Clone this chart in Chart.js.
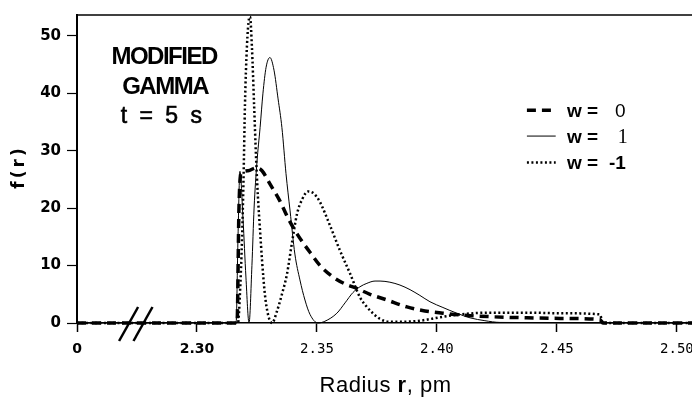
<!DOCTYPE html>
<html>
<head>
<meta charset="utf-8">
<script src="https://cdn.jsdelivr.net/npm/chart.js@4.4.1/dist/chart.umd.min.js"></script>
<style>
  html, body { margin: 0; padding: 0; background: #fff; }
  #wrap { width: 692px; height: 397px; position: relative; }
</style>
</head>
<body>
<div id="wrap"><canvas id="gammaChart"></canvas></div>
<script>
// Modified gamma distribution f(r) at t = 5 s, three values of w

// axis ticks (2.25 is shown as "0" because of the axis break)
const xTicks = [2.25, 2.30, 2.35, 2.40, 2.45, 2.50];
const xTickLabels = ['0', '2.30', '2.35', '2.40', '2.45', '2.50'];
const yTicks = [0, 10, 20, 30, 40, 50];

// w = 0 (thick dashed)
const w0Radius = [2.25, 2.3167, 2.3175, 2.3183, 2.3213, 2.3246, 2.3271, 2.3304, 2.3346, 2.3379,
                  2.3417, 2.3471, 2.3513, 2.3567, 2.3617, 2.3667, 2.3721, 2.3792, 2.3875, 2.395,
                  2.4025, 2.4096, 2.4221, 2.4375, 2.4513, 2.4679, 2.4692, 2.5063];
const w0Values = [0, 0, 20, 26, 26.5, 27, 26.5, 24.2, 21.2, 18.3,
                  15.5, 12.3, 10.0, 8.0, 6.8, 6.0, 5.0, 4.0, 2.8, 2.1,
                  1.7, 1.4, 1.1, 0.9, 0.8, 0.6, 0, 0];

// w = 1 (thin solid)
const w1Radius = [2.25, 2.3163, 2.3171, 2.3179, 2.3192, 2.3204, 2.3217, 2.3229, 2.3238, 2.325,
                  2.3263, 2.3275, 2.3288, 2.3304, 2.3321, 2.3338, 2.3354, 2.3371, 2.3388, 2.3408,
                  2.3429, 2.345, 2.3471, 2.3504, 2.3533, 2.3583, 2.3617, 2.365, 2.3679, 2.3708,
                  2.3742, 2.3763, 2.3804, 2.3846, 2.3888, 2.3929, 2.3971, 2.4025, 2.4083, 2.4138,
                  2.42, 2.4263, 2.5063];
const w1Values = [0, 0, 15, 26.4, 18, 8, 0, 10, 20, 28,
                  34, 40, 44.5, 46.2, 44, 39, 34, 26, 19.5, 12,
                  7.5, 4, 1.5, 0, 0.3, 1.7, 3.5, 5.3, 6.3, 6.9,
                  7.3, 7.3, 7.1, 6.6, 5.8, 4.8, 3.7, 2.7, 1.7, 0.9,
                  0.4, 0.1, 0];

// w = -1 (dotted)
const wm1Radius = [2.25, 2.3171, 2.3179, 2.3188, 2.3194, 2.32, 2.3208, 2.3217, 2.3221, 2.3229,
                   2.3238, 2.3246, 2.3254, 2.3263, 2.3271, 2.3283, 2.3296, 2.3313, 2.3333, 2.3354,
                   2.3375, 2.3396, 2.3417, 2.3438, 2.3463, 2.3488, 2.3513, 2.3554, 2.3596, 2.3638,
                   2.3679, 2.3708, 2.3733, 2.3763, 2.3804, 2.3846, 2.3929, 2.4013, 2.4096, 2.4221,
                   2.4375, 2.4513, 2.4679, 2.4692, 2.5063];
const wm1Values = [0, 0, 5, 15, 25, 38, 48, 53, 53.3, 48,
                   38, 29, 22, 16, 11, 5, 1.5, 0, 2, 5,
                   8.5, 14, 19, 21.5, 22.9, 22.5, 21, 17, 12.6, 8.6,
                   4.5, 2.8, 1.7, 0.7, 0.2, 0.2, 0.4, 1.0, 1.5, 1.8,
                   1.8, 1.7, 1.5, 0, 0];

const SANS = "'Liberation Sans', Arial, sans-serif";

function toPoints(xs, ys) {
    return xs.map((r, i) => ({ x: r, y: ys[i] }));
}

function lineSet(label, xs, ys, width, dash, valueStyle) {
    return {
        label: label,
        data: toPoints(xs, ys),
        borderColor: '#000',
        borderWidth: width,
        borderDash: dash,
        pointRadius: 0,
        cubicInterpolationMode: 'monotone',
        fill: false,
        clip: 6,
        valueStyle: valueStyle
    };
}

// frame top, axis break, text labels and the legend
const decorations = {
    id: 'decorations',
    afterDraw(chart) {
        const { ctx, chartArea: a, scales: { x, y } } = chart;
        ctx.save();
        ctx.strokeStyle = '#000';
        ctx.fillStyle = '#000';

        ctx.lineWidth = 1.5;
        ctx.beginPath();
        ctx.moveTo(a.left - 1, a.top);
        ctx.lineTo(a.right, a.top);
        ctx.stroke();

        // axis break "//"
        const y0 = y.getPixelForValue(0);
        ctx.lineWidth = 2.5;
        [2.2715, 2.2775].forEach(v => {
            const cx = x.getPixelForValue(v);
            ctx.beginPath();
            ctx.moveTo(cx - 9.5, y0 + 18);
            ctx.lineTo(cx + 9.5, y0 - 16);
            ctx.stroke();
        });

        // text block in upper left
        ctx.textAlign = 'center';
        ctx.textBaseline = 'alphabetic';
        ctx.font = 'bold 24px ' + SANS;
        ctx.letterSpacing = '-1.5px';
        ctx.fillText('MODIFIED', x.getPixelForValue(2.2863), y.getPixelForValue(45));
        ctx.fillText('GAMMA', x.getPixelForValue(2.2867), y.getPixelForValue(39.8));
        ctx.font = '23px ' + SANS;
        ctx.letterSpacing = '3px';
        ctx.lineWidth = 0.6;
        const tX = x.getPixelForValue(2.2858), tY = y.getPixelForValue(34.8);
        ctx.fillText('t = 5 s', tX, tY);
        ctx.strokeText('t = 5 s', tX, tY);

        // y title
        ctx.save();
        ctx.translate(20, (a.top + a.bottom) / 2 - 2);
        ctx.rotate(-Math.PI / 2);
        ctx.font = "bold 17px 'DejaVu Sans', sans-serif";
        ctx.letterSpacing = '3px';
        ctx.textBaseline = 'middle';
        ctx.fillText('f(r)', 0, 0);
        ctx.restore();

        // x title with bold r
        ctx.letterSpacing = '0.5px';
        ctx.textAlign = 'left';
        const parts = [['Radius ', '22px ' + SANS], ['r', 'bold 22px ' + SANS], [', pm', '22px ' + SANS]];
        let total = 0;
        parts.forEach(p => { ctx.font = p[1]; total += ctx.measureText(p[0]).width; });
        let tx = (a.left + a.right) / 2 + 1 - total / 2;
        parts.forEach(p => {
            ctx.font = p[1];
            ctx.fillText(p[0], tx, 392);
            tx += ctx.measureText(p[0]).width;
        });

        // legend
        ctx.letterSpacing = '0px';
        const rowBase = [35.9, 31.4, 26.8];
        chart.data.datasets.forEach((ds, i) => {
            const base = y.getPixelForValue(rowBase[i]);
            const x0 = x.getPixelForValue(2.4375);
            const x1 = x.getPixelForValue(2.4495);
            ctx.lineWidth = ds.borderWidth;
            ctx.setLineDash(ds.borderDash || []);
            ctx.beginPath();
            ctx.moveTo(x0, base - 6.5);
            ctx.lineTo(x1, base - 6.5);
            ctx.stroke();
            ctx.setLineDash([]);
            ctx.font = 'bold 19px ' + SANS;
            ctx.fillText('w =', x.getPixelForValue(2.4542), base);
            ctx.font = ds.valueStyle.font;
            ctx.fillText(ds.valueStyle.text, x.getPixelForValue(ds.valueStyle.at), base);
        });
        ctx.restore();
    }
};

const ctx = document.getElementById('gammaChart').getContext('2d');
new Chart(ctx, {
    type: 'line',
    data: {
        datasets: [
            lineSet('w = 0', w0Radius, w0Values, 3.5, [9, 6], { text: '0', font: '19px ' + SANS, at: 2.4742 }),
            lineSet('w = 1', w1Radius, w1Values, 1, [], { text: '1', font: "20px 'Liberation Serif', serif", at: 2.4754 }),
            lineSet('w = -1', wm1Radius, wm1Values, 2.5, [2, 2.5], { text: '-1', font: 'bold 19px ' + SANS, at: 2.4717 })
        ]
    },
    options: {
        responsive: true,
        maintainAspectRatio: false,
        animation: false,
        layout: { padding: { top: 12, right: 0, left: 0, bottom: 0 } },
        plugins: {
            legend: { display: false },
            tooltip: { enabled: false }
        },
        scales: {
            x: {
                type: 'linear',
                min: 2.25,
                max: 2.5063,
                afterBuildTicks: s => { s.ticks = xTicks.map(v => ({ value: v })); },
                afterFit: s => { s.height = 74; s.paddingLeft = 0; s.paddingRight = 0; },
                border: { color: '#000', width: 1.5 },
                grid: { drawOnChartArea: false, tickLength: 9, tickColor: '#000', tickWidth: 1.5 },
                ticks: {
                    autoSkip: false,
                    maxRotation: 0,
                    padding: 9,
                    color: '#000',
                    font: c => c.index < 2
                        ? { family: "'DejaVu Sans', sans-serif", weight: 'bold', size: 14 }
                        : { family: "'DejaVu Sans Mono', monospace", weight: 'normal', size: 14 },
                    callback: (v, i) => xTickLabels[i]
                }
            },
            y: {
                min: 0,
                max: 53.6,
                afterBuildTicks: s => { s.ticks = yTicks.map(v => ({ value: v })); },
                afterFit: s => { s.width = 77; },
                border: { color: '#000', width: 2 },
                grid: { drawOnChartArea: false, tickLength: 10, tickColor: '#000', tickWidth: 1.2 },
                ticks: {
                    padding: 6,
                    color: '#000',
                    font: { family: "'DejaVu Sans', sans-serif", weight: 'bold', size: 15 }
                }
            }
        }
    },
    plugins: [decorations]
});
</script>
</body>
</html>
